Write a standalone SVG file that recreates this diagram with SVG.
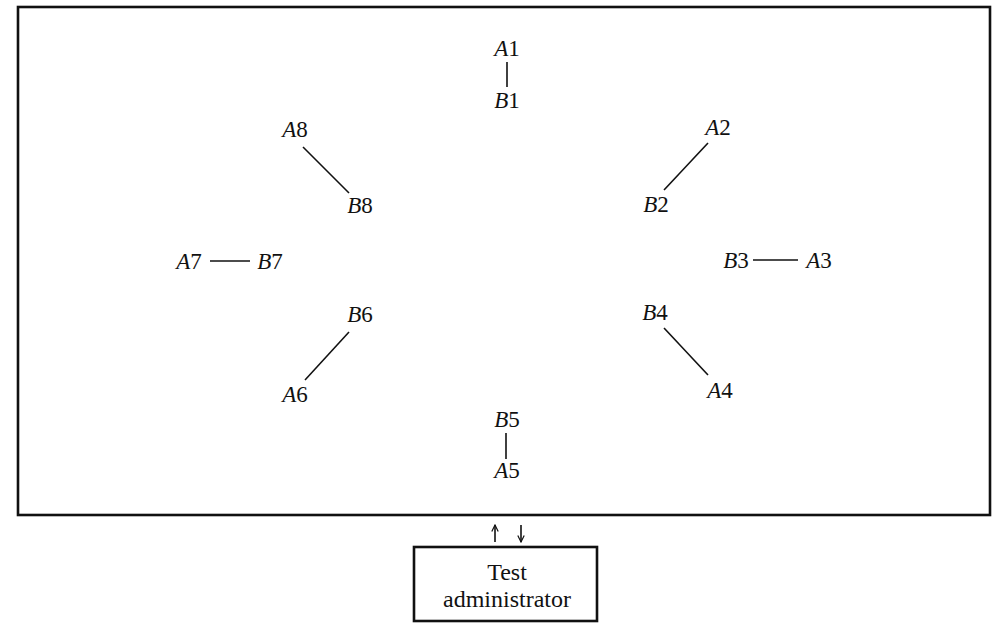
<svg xmlns="http://www.w3.org/2000/svg" width="999" height="624" viewBox="0 0 999 624">
<defs>
<style>
.lbl{font-family:"Liberation Serif","Times New Roman",serif;font-size:23px;fill:#111;text-anchor:middle}
.box{font-size:24px}
.it{font-style:italic}
.ln{stroke:#111;stroke-width:1.6;fill:none}
.frame{stroke:#111;stroke-width:2.6;fill:none}
</style>
<marker id="ah" viewBox="0 0 10 10" refX="9" refY="5" markerWidth="8" markerHeight="8" orient="auto" markerUnits="userSpaceOnUse">
<path d="M1,1 L9,5 L1,9" fill="none" stroke="#111" stroke-width="1.5"/>
</marker>
</defs>
<rect width="999" height="624" fill="#fff"/>
<g id="frame"><rect class="frame" x="18" y="7" width="972" height="508"/></g>
<g id="connectors">
<line class="ln" x1="507" y1="62" x2="507" y2="87"/>
<line class="ln" x1="708" y1="143" x2="664" y2="190"/>
<line class="ln" x1="753" y1="260" x2="798" y2="260"/>
<line class="ln" x1="664" y1="328" x2="708" y2="375"/>
<line class="ln" x1="506" y1="433" x2="506" y2="459"/>
<line class="ln" x1="349" y1="332" x2="305" y2="380"/>
<line class="ln" x1="210" y1="261" x2="250" y2="261"/>
<line class="ln" x1="303" y1="147" x2="349" y2="193"/>
<line class="ln" x1="495" y1="542" x2="495" y2="525" marker-end="url(#ah)"/>
<line class="ln" x1="521" y1="525" x2="521" y2="542" marker-end="url(#ah)"/>
</g>
<g id="A1"><text class="lbl" x="507" y="56"><tspan class="it">A</tspan>1</text></g>
<g id="B1"><text class="lbl" x="507" y="108"><tspan class="it">B</tspan>1</text></g>
<g id="A2"><text class="lbl" x="718" y="135"><tspan class="it">A</tspan>2</text></g>
<g id="B2"><text class="lbl" x="656" y="212"><tspan class="it">B</tspan>2</text></g>
<g id="B3"><text class="lbl" x="736" y="268"><tspan class="it">B</tspan>3</text></g>
<g id="A3"><text class="lbl" x="819" y="268"><tspan class="it">A</tspan>3</text></g>
<g id="B4"><text class="lbl" x="655" y="320"><tspan class="it">B</tspan>4</text></g>
<g id="A4"><text class="lbl" x="720" y="398"><tspan class="it">A</tspan>4</text></g>
<g id="B5"><text class="lbl" x="507" y="427"><tspan class="it">B</tspan>5</text></g>
<g id="A5"><text class="lbl" x="507" y="478"><tspan class="it">A</tspan>5</text></g>
<g id="B6"><text class="lbl" x="360" y="322"><tspan class="it">B</tspan>6</text></g>
<g id="A6"><text class="lbl" x="295" y="402"><tspan class="it">A</tspan>6</text></g>
<g id="A7"><text class="lbl" x="189" y="269"><tspan class="it">A</tspan>7</text></g>
<g id="B7"><text class="lbl" x="270" y="269"><tspan class="it">B</tspan>7</text></g>
<g id="A8"><text class="lbl" x="295" y="137"><tspan class="it">A</tspan>8</text></g>
<g id="B8"><text class="lbl" x="360" y="213"><tspan class="it">B</tspan>8</text></g>
<g id="admin">
<rect class="frame" x="414" y="547" width="183" height="74" stroke-width="2.2"/>
<text class="lbl box" x="507" y="580">Test</text>
<text class="lbl box" x="507" y="607">administrator</text>
</g>
</svg>
